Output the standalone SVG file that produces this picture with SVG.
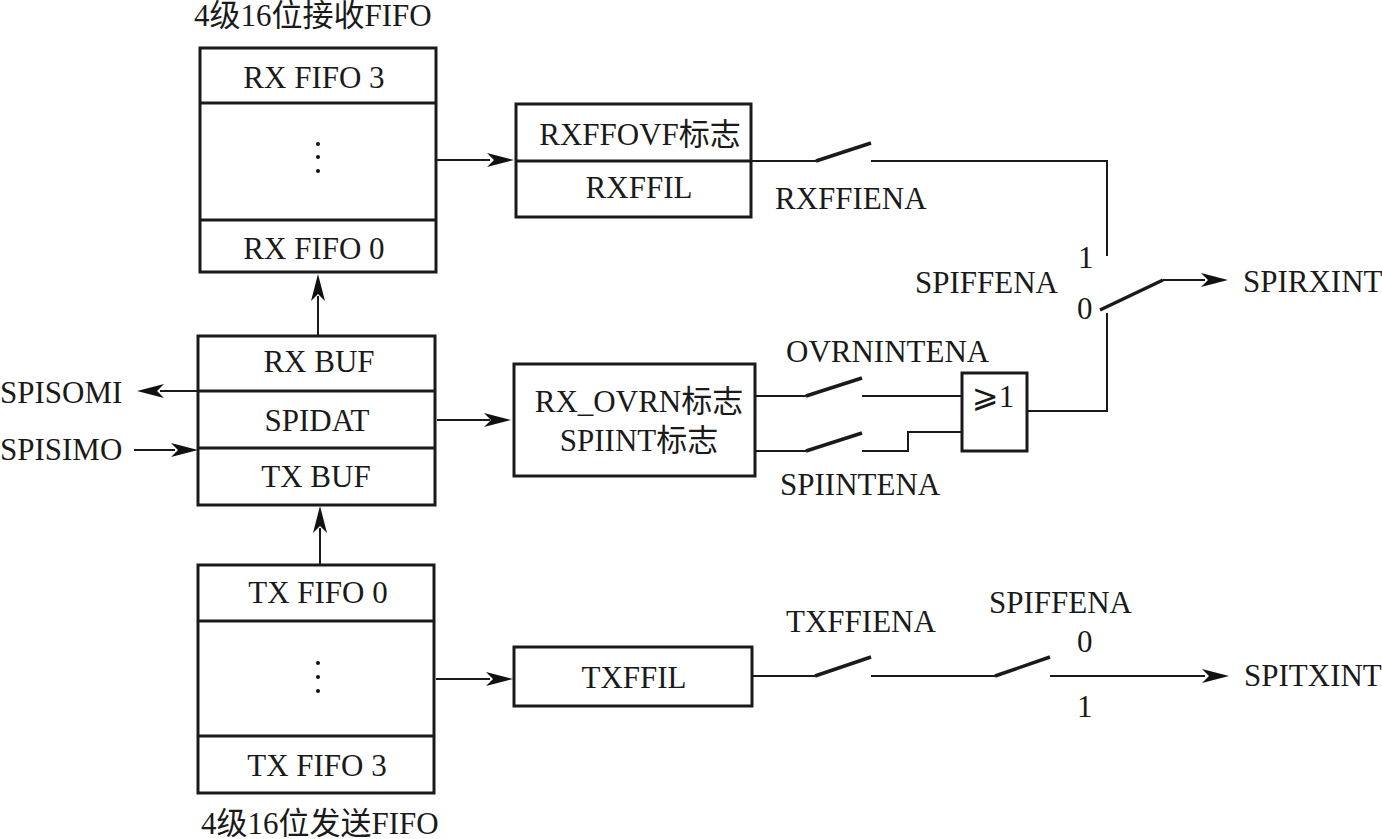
<svg xmlns="http://www.w3.org/2000/svg" width="1382" height="839" viewBox="0 0 1382 839">
<style>
text{font-family:"Liberation Serif","Noto Sans CJK SC",serif;font-size:31px;fill:#1a1a1a}
.m{text-anchor:middle}
.b{fill:#fff;stroke:#1a1a1a;stroke-width:3}
.d{stroke:#1a1a1a;stroke-width:3;fill:none}
.l{stroke:#1a1a1a;stroke-width:2;fill:none}
.s{stroke:#1a1a1a;stroke-width:3.5;fill:none}
.a{fill:#111}
.g{fill:#111}
</style>
<defs>
<path id="ar" class="a" d="M0 0L-27 -7L-20 0L-27 7Z"/>
</defs>
<rect width="1382" height="839" fill="#fff"/>
<g id="connectors">
<path class="l" d="M436 160H490"/><use href="#ar" transform="translate(514,160)"/>
<path class="l" d="M318 335V296"/><use href="#ar" transform="translate(318,274) rotate(-90)"/>
<path class="l" d="M320 564V528"/><use href="#ar" transform="translate(320,506) rotate(-90)"/>
<path class="l" d="M197 391H160"/><use href="#ar" transform="translate(137,391) rotate(180)"/>
<path class="l" d="M134 450H175"/><use href="#ar" transform="translate(198,450)"/>
<path class="l" d="M437 420H490"/><use href="#ar" transform="translate(511,420)"/>
<path class="l" d="M436 679H490"/><use href="#ar" transform="translate(513,679)"/>
<path class="l" d="M752 161H816"/><path class="s" d="M816 161L871 143"/>
<path class="l" d="M871 161H1107V256"/>
<path class="s" d="M1100 310L1163 280"/><path class="l" d="M1163 280H1205"/><use href="#ar" transform="translate(1228,280)"/>
<path class="l" d="M1107 313V411H1027"/>
<path class="l" d="M756 396H806"/><path class="s" d="M806 396L862 378"/><path class="l" d="M862 396H961"/>
<path class="l" d="M756 451H806"/><path class="s" d="M806 451L862 433"/><path class="l" d="M862 451H908V432H961"/>
<path class="l" d="M752 676H815"/><path class="s" d="M815 676L871 657"/><path class="l" d="M871 676H995"/><path class="s" d="M995 676L1050 657"/><path class="l" d="M1050 676H1205"/><use href="#ar" transform="translate(1229,676)"/>
</g>
<g id="rx-fifo">
<rect class="b" x="200" y="48" width="236" height="224"/>
<path class="d" d="M200 103H436M200 220H436"/>
<text class="m" x="314" y="88">RX FIFO 3</text>
<circle class="g" cx="318" cy="144" r="2"/><circle class="g" cx="318" cy="157" r="2"/><circle class="g" cx="318" cy="171" r="2"/>
<text class="m" x="314" y="259">RX FIFO 0</text>
</g>
<g id="spi-buf">
<rect class="b" x="198" y="336" width="237" height="169"/>
<path class="d" d="M198 391H435M198 448H435"/>
<text class="m" x="319" y="372">RX BUF</text>
<text class="m" x="317" y="431">SPIDAT</text>
<text class="m" x="316" y="487">TX BUF</text>
</g>
<g id="tx-fifo">
<rect class="b" x="198" y="565" width="236" height="228"/>
<path class="d" d="M198 621H434M198 736H434"/>
<text class="m" x="318" y="603">TX FIFO 0</text>
<circle class="g" cx="318" cy="663" r="2"/><circle class="g" cx="318" cy="677" r="2"/><circle class="g" cx="318" cy="691" r="2"/>
<text class="m" x="317" y="776">TX FIFO 3</text>
</g>
<g id="rxff">
<rect class="b" x="516" y="104" width="235" height="113"/>
<path class="d" d="M516 161H751"/>
<text class="m" x="640" y="145">RXFFOVF标志</text>
<text class="m" x="639" y="198">RXFFIL</text>
</g>
<g id="rxovrn">
<rect class="b" x="514" y="364" width="241" height="112"/>
<text class="m" x="639" y="412">RX_OVRN标志</text>
<text class="m" x="639" y="451">SPIINT标志</text>
</g>
<g id="txffil">
<rect class="b" x="514" y="647" width="238" height="59"/>
<text class="m" x="634" y="688">TXFFIL</text>
</g>
<g id="or-gate">
<rect class="b" x="962" y="373" width="65" height="78"/>
<text x="972" y="407"><tspan style="font-family:'DejaVu Sans',serif;font-size:32px">⩾</tspan>1</text>
</g>
<g id="labels">
<text x="194" y="26">4级16位接收FIFO</text>
<text x="201" y="834">4级16位发送FIFO</text>
<text x="0" y="403">SPISOMI</text>
<text x="0" y="460">SPISIMO</text>
<text x="775" y="209">RXFFIENA</text>
<text x="915" y="293">SPIFFENA</text>
<text x="1078" y="268">1</text>
<text x="1077" y="319">0</text>
<text x="1243" y="292">SPIRXINT</text>
<text x="786" y="362">OVRNINTENA</text>
<text x="780" y="495">SPIINTENA</text>
<text x="786" y="632">TXFFIENA</text>
<text x="989" y="613">SPIFFENA</text>
<text x="1077" y="652">0</text>
<text x="1077" y="717">1</text>
<text x="1244" y="686">SPITXINT</text>
</g>
</svg>
